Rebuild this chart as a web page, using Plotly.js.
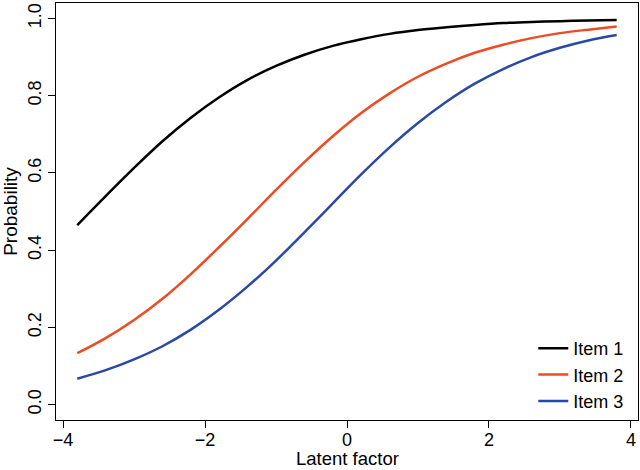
<!DOCTYPE html>
<html>
<head>
<meta charset="utf-8">
<script src="https://cdn.plot.ly/plotly-3.0.1.min.js"></script>
<style>html,body{margin:0;padding:0;background:#fff;}#chart{width:640px;height:470px;}</style>
</head>
<body>
<div id="chart"></div>
<script>
const latent = [-3.8,-3.4,-3.0,-2.6,-2.2,-1.8,-1.4,-1.0,-0.6,-0.2,0.2,0.6,1.0,1.4,1.8,2.2,2.6,3.0,3.4,3.8];
const item1 = [0.465,0.540,0.613,0.682,0.743,0.796,0.841,0.877,0.906,0.929,0.946,0.960,0.970,0.977,0.983,0.988,0.991,0.993,0.995,0.996];
const item2 = [0.133,0.172,0.219,0.274,0.338,0.408,0.481,0.556,0.628,0.695,0.755,0.806,0.849,0.883,0.911,0.932,0.949,0.962,0.971,0.979];
const item3 = [0.067,0.089,0.117,0.151,0.194,0.246,0.306,0.373,0.446,0.521,0.596,0.666,0.729,0.784,0.831,0.869,0.900,0.924,0.943,0.957];
const seriesNames = ['Item 1','Item 2','Item 3'];
const seriesColors = ['#000000','#EE4B22','#2A49A6'];
const xTicks = [-4,-2,0,2,4];
const xTickText = ['\u22124','\u22122','0','2','4'];
const yTicks = [0,0.2,0.4,0.6,0.8,1.0];
const yTickText = ['0.0','0.2','0.4','0.6','0.8','1.0'];
const xTitle = 'Latent factor';
const yTitle = 'Probability';

const ys = [item1,item2,item3];
const traces = ys.map((y,i)=>({
  x: latent, y: y, type:'scatter', mode:'lines', name: seriesNames[i],
  line:{color: seriesColors[i], width:2.5, shape:'spline'}
}));

const fam = '"Liberation Sans", Arial, Helvetica, sans-serif';
const font = {family:fam, size:19, color:'#000'};
const tfont = {family:fam, size:18, color:'#000'};
const layout = {
  width:640, height:470,
  margin:{l:56, r:2, t:3, b:50},
  paper_bgcolor:'#fff', plot_bgcolor:'#fff',
  font: font,
  showlegend:true,
  legend:{x:0.985, xanchor:'right', y:0.0, yanchor:'bottom', bgcolor:'rgba(0,0,0,0)', font:{family:fam, size:18, color:'#000'}, tracegroupgap:0},
  xaxis:{range:[-4.1,4.1], tickvals:xTicks, ticktext:xTickText, ticks:'outside', ticklen:7, tickwidth:1, tickcolor:'#000',
    ticklabelstandoff:-4,
    showline:true, mirror:true, linecolor:'#000', linewidth:1, showgrid:false, zeroline:false,
    tickfont:tfont},
  yaxis:{range:[-0.04,1.04], tickvals:yTicks, ticktext:yTickText, ticks:'outside', ticklen:7, tickwidth:1, tickcolor:'#000',
    tickangle:-90, showline:true, mirror:true, linecolor:'#000', linewidth:1, showgrid:false, zeroline:false,
    tickfont:tfont, title:{text:yTitle, font:font, standoff:6}},
  annotations:[{text:xTitle, xref:'paper', yref:'paper', x:0.5, y:0, xanchor:'center', yanchor:'top',
    yshift:-26, showarrow:false, font:{family:fam, size:18.5, color:'#000'}}]
};
Plotly.newPlot('chart', traces, layout, {displayModeBar:false, staticPlot:true});
</script>
</body>
</html>
